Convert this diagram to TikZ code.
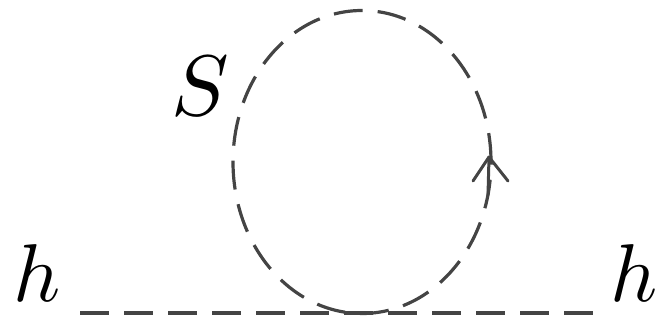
\documentclass[tikz,border=0pt]{standalone}
\usepackage{graphicx}
\usetikzlibrary{shapes.geometric}
\definecolor{linegray}{HTML}{444444}
\begin{document}
\begin{tikzpicture}[x=1pt,y=-1pt,
  prop/.style={draw=linegray,line width=3.2pt,dash pattern=on 29pt off 15pt},
  lbl/.style={inner sep=0pt},
  arr/.style={draw=linegray,line width=3pt,line cap=round,line join=round}]
\useasboundingbox (0,0) rectangle (660,323);
\coordinate (l) at (80,313);
\coordinate (r) at (601,313);
\draw[prop] (l) -- (r);
\node[prop,ellipse,minimum width=258pt,minimum height=303pt,inner sep=0pt] (loop) at (362,162) {};
\node[lbl,anchor=base] (h1) at (37,301) {\scalebox{8.2}{$h$}};
\node[lbl,anchor=base] (h2) at (634,301) {\scalebox{8.2}{$h$}};
\node[lbl,anchor=base] (s) at (200,116) {\scalebox{8.6}{$S$}};
\coordinate (tip) at (489,157);
\draw[arr] (473,181) -- (tip) -- (508,181);
\draw[arr] (tip) -- (488,195);
\end{tikzpicture}
\end{document}
